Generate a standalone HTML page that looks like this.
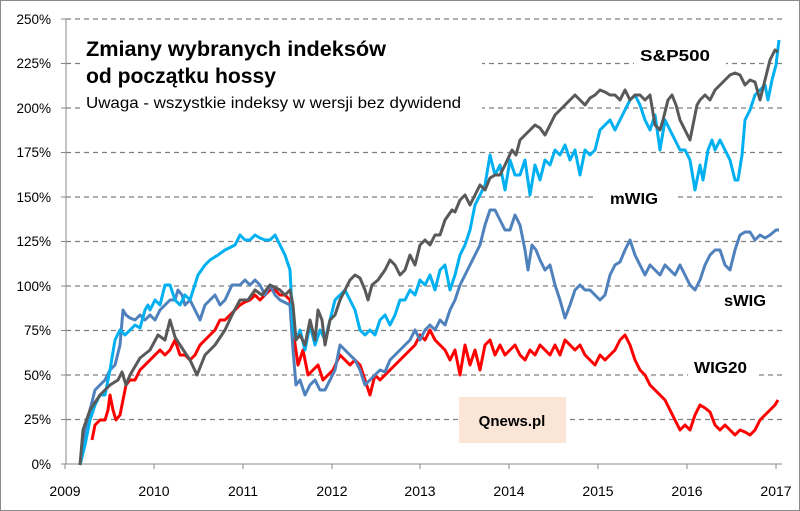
<!DOCTYPE html><html><head><meta charset="utf-8"><style>body{margin:0;background:#fff}svg{display:block;font-family:"Liberation Sans",sans-serif}</style></head><body>
<svg width="800" height="511" viewBox="0 0 800 511">
<rect x="0.5" y="0.5" width="799" height="510" fill="#fff" stroke="#8a8a8a"/>
<g stroke="#808080" stroke-width="1.2" stroke-dasharray="5,4">
<line x1="66" y1="19" x2="782" y2="19"/><line x1="66" y1="63.5" x2="782" y2="63.5"/><line x1="66" y1="108" x2="782" y2="108"/><line x1="66" y1="152.5" x2="782" y2="152.5"/><line x1="66" y1="197" x2="782" y2="197"/><line x1="66" y1="241.5" x2="782" y2="241.5"/><line x1="66" y1="286" x2="782" y2="286"/><line x1="66" y1="330.5" x2="782" y2="330.5"/><line x1="66" y1="375" x2="782" y2="375"/><line x1="66" y1="419.5" x2="782" y2="419.5"/>
</g>
<g stroke="#888" stroke-width="1">
<line x1="66" y1="19" x2="66" y2="464"/><line x1="66" y1="464" x2="782" y2="464"/>
<line x1="61" y1="19" x2="66" y2="19"/><line x1="61" y1="63.5" x2="66" y2="63.5"/><line x1="61" y1="108" x2="66" y2="108"/><line x1="61" y1="152.5" x2="66" y2="152.5"/><line x1="61" y1="197" x2="66" y2="197"/><line x1="61" y1="241.5" x2="66" y2="241.5"/><line x1="61" y1="286" x2="66" y2="286"/><line x1="61" y1="330.5" x2="66" y2="330.5"/><line x1="61" y1="375" x2="66" y2="375"/><line x1="61" y1="419.5" x2="66" y2="419.5"/><line x1="61" y1="464" x2="66" y2="464"/>
<line x1="65" y1="464" x2="65" y2="469"/><line x1="154" y1="464" x2="154" y2="469"/><line x1="243" y1="464" x2="243" y2="469"/><line x1="332" y1="464" x2="332" y2="469"/><line x1="420" y1="464" x2="420" y2="469"/><line x1="509" y1="464" x2="509" y2="469"/><line x1="598" y1="464" x2="598" y2="469"/><line x1="687" y1="464" x2="687" y2="469"/><line x1="776" y1="464" x2="776" y2="469"/>
</g>
<g font-size="13.5" fill="#000" text-anchor="end">
<text x="51" y="24">250%</text><text x="51" y="68">225%</text><text x="51" y="113">200%</text><text x="51" y="157">175%</text><text x="51" y="202">150%</text><text x="51" y="246">125%</text><text x="51" y="291">100%</text><text x="51" y="335">75%</text><text x="51" y="380">50%</text><text x="51" y="424">25%</text><text x="51" y="469">0%</text>
</g>
<g font-size="14" fill="#000" text-anchor="middle">
<text x="65" y="496">2009</text><text x="154" y="496">2010</text><text x="243" y="496">2011</text><text x="332" y="496">2012</text><text x="420" y="496">2013</text><text x="509" y="496">2014</text><text x="598" y="496">2015</text><text x="687" y="496">2016</text><text x="776" y="496">2017</text>
</g>
<rect x="459" y="397" width="107" height="46" fill="#fbe5d6"/>
<text x="512" y="426" font-size="15" font-weight="bold" text-anchor="middle">Qnews.pl</text>
<rect x="82" y="30" width="400" height="88" fill="#fff"/>
<text x="86" y="56" font-size="21.5" font-weight="bold" textLength="300" lengthAdjust="spacingAndGlyphs">Zmiany wybranych indeksów</text>
<text x="86" y="83" font-size="21.5" font-weight="bold" textLength="190" lengthAdjust="spacingAndGlyphs">od początku hossy</text>
<text x="86" y="108" font-size="16" textLength="375" lengthAdjust="spacingAndGlyphs">Uwaga - wszystkie indeksy w wersji bez dywidend</text>
<rect x="634" y="44" width="92" height="26" fill="#fff"/><text x="640" y="61" font-size="16" font-weight="bold" textLength="70" lengthAdjust="spacingAndGlyphs">S&amp;P500</text>
<rect x="593" y="186" width="82" height="26" fill="#fff"/><text x="610" y="204" font-size="16" font-weight="bold" textLength="48" lengthAdjust="spacingAndGlyphs">mWIG</text>
<rect x="720" y="288" width="62" height="26" fill="#fff"/><text x="724" y="306" font-size="16" font-weight="bold" textLength="42" lengthAdjust="spacingAndGlyphs">sWIG</text>
<rect x="688" y="355" width="70" height="26" fill="#fff"/><text x="694" y="373" font-size="16" font-weight="bold" textLength="53" lengthAdjust="spacingAndGlyphs">WIG20</text>
<g fill="none" stroke-width="3" stroke-linejoin="round">
<polyline stroke="#ff0000" points="92,440 95,425 100,420 105,420 108,410 110,395 113,410 116,420 120,415 123,400 126,385 130,380 135,380 140,370 145,365 150,360 155,355 160,350 165,355 170,350 175,340 180,355 185,355 190,360 195,355 200,345 205,340 210,335 215,330 220,320 225,320 230,315 235,310 240,305 245,302 250,300 255,295 260,300 265,295 270,290 275,290 280,295 285,295 290,300 293,330 298,365 303,350 308,375 313,370 318,365 323,380 328,375 333,370 340,355 345,360 350,365 355,360 360,365 365,380 370,395 375,375 380,380 385,375 390,370 395,365 400,360 405,355 410,350 415,345 420,335 425,340 430,330 435,340 440,345 445,350 450,360 455,350 460,375 465,345 470,365 475,350 480,370 485,345 490,340 495,355 500,345 505,355 510,350 515,345 520,355 525,360 530,350 535,355 540,345 545,350 550,355 555,345 560,355 565,340 570,345 575,350 580,345 585,355 590,360 595,365 600,355 605,360 610,355 615,350 620,340 625,335 630,345 635,360 640,370 645,375 650,385 655,390 660,395 665,400 670,410 675,420 680,430 685,425 690,430 695,415 700,405 705,408 710,412 715,425 720,430 725,425 730,430 735,435 740,430 745,432 750,435 755,430 760,420 765,415 770,410 775,405 778,400"/>
<polyline stroke="#4f81bd" points="80,465 85,430 90,410 95,390 100,385 105,380 110,370 115,365 120,345 123,310 126,315 130,318 135,320 140,315 145,320 150,315 155,320 160,310 165,305 170,300 175,300 178,290 182,295 185,305 190,300 195,310 200,320 205,305 210,300 215,295 220,305 225,300 232,285 240,285 245,280 250,285 255,280 260,285 265,295 270,285 275,295 280,300 290,305 293,350 296,385 300,380 305,395 310,385 315,380 320,390 325,390 330,380 335,370 340,345 345,350 350,355 355,360 360,370 365,385 370,380 375,375 380,370 385,372 390,360 395,355 400,350 405,345 410,340 415,330 420,340 425,330 430,325 435,330 440,320 445,325 450,310 455,300 460,285 465,275 470,265 475,255 480,245 485,225 490,210 495,210 500,220 505,230 510,230 515,215 520,225 525,250 528,270 532,245 536,250 540,260 545,270 550,265 555,285 560,300 565,318 570,305 575,290 580,285 585,290 590,290 595,295 600,300 605,295 610,275 615,265 620,262 625,250 630,240 635,255 640,265 645,275 650,265 655,270 660,275 665,265 670,270 675,275 680,265 685,275 690,285 695,290 700,280 705,265 710,255 715,250 720,250 725,265 730,270 735,250 740,235 745,232 750,232 755,240 760,235 765,238 770,235 776,230 779,230"/>
<polyline stroke="#00b0f0" points="80,465 85,445 90,420 95,405 100,395 105,395 110,370 115,340 120,330 125,335 130,330 135,325 140,328 145,310 148,305 150,310 155,300 160,305 165,285 170,285 175,300 180,305 185,295 190,300 198,275 205,265 210,260 218,255 225,250 235,245 240,235 245,240 250,240 255,235 260,238 265,240 270,240 275,235 280,245 285,255 290,270 293,330 296,340 300,330 305,350 310,325 315,345 320,330 325,340 330,320 335,300 340,295 345,290 350,300 355,310 360,330 365,335 370,330 375,335 380,320 385,315 390,325 395,315 400,300 405,300 410,290 415,295 420,280 425,285 430,275 435,290 440,270 445,265 450,290 455,275 460,255 465,245 470,230 475,205 480,195 485,185 490,155 495,175 500,165 505,190 510,160 515,175 520,175 525,160 530,195 535,165 540,180 545,160 550,165 555,150 560,155 565,145 570,160 575,150 580,175 585,150 590,155 595,150 600,130 605,125 610,120 615,130 620,120 625,110 630,100 635,95 640,105 645,120 650,130 655,115 660,150 665,120 670,130 675,140 680,150 685,150 690,160 695,190 700,165 703,180 708,150 712,140 715,150 720,140 725,150 730,160 735,180 738,180 742,155 745,120 750,110 755,95 760,90 765,85 768,100 772,80 776,65 779,40"/>
<polyline stroke="#595959" points="80,465 83,430 90,410 100,395 110,385 118,380 122,372 126,385 130,375 140,358 150,350 158,335 165,340 170,320 175,337 180,345 190,360 197,375 205,355 215,345 225,330 232,315 240,300 248,300 255,290 262,295 270,285 280,290 285,295 290,290 293,305 296,340 300,335 305,345 310,320 315,340 318,310 322,320 325,345 330,320 335,315 340,300 345,290 350,280 355,275 360,278 365,290 368,300 372,285 378,280 385,270 390,260 395,265 400,275 405,270 410,255 415,265 420,245 425,240 430,245 435,235 440,235 445,220 452,210 455,212 460,200 465,195 470,205 475,195 480,185 485,190 490,178 495,175 500,175 505,165 512,150 516,155 520,140 525,135 530,130 535,125 540,128 545,135 550,125 555,115 560,110 565,105 570,100 575,95 580,100 585,105 590,98 595,95 600,90 605,92 610,95 615,95 620,100 625,90 630,100 635,95 640,95 645,100 650,95 655,125 660,130 663,120 668,100 672,95 676,105 680,120 685,130 690,140 693,125 697,105 700,100 705,95 710,100 715,90 720,85 725,80 730,75 735,73 740,75 745,85 750,80 755,82 760,100 765,80 770,60 775,50 778,52"/>
</g>
</svg></body></html>
